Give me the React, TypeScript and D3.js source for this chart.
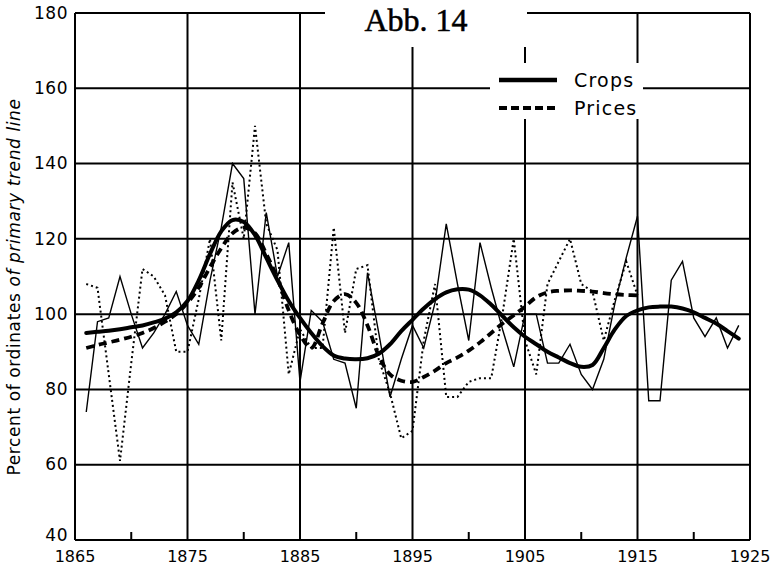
import React from "react";
import * as d3 from "d3";

const W = 778;
const H = 568;

const firstYear = 1866;

// Crops, annual (percent of trend) 1866–1924
const cropsAnnual = [
  74, 98, 99, 110, 100, 91, 95, 100, 106, 97,
  92, 109, 123, 140, 136, 100, 127, 110, 119, 82,
  101, 98, 88, 87, 75, 111, 95, 78, 88, 97,
  91, 103, 124, 108, 93, 119, 107, 96, 86, 100,
  100, 87, 87, 92, 84, 80, 88, 103, 115, 126,
  77, 77, 109, 114, 99, 94, 99, 91, 97,
];

// Crops, smoothed cycle 1866–1924
const cropsTrend = [
  95, 95.3, 95.6, 96, 96.5, 97, 97.8, 98.8, 100.5, 103.5,
  109, 116, 122, 125, 124.5, 121, 115, 109, 103.5, 99,
  95, 91.5, 89, 88.2, 88, 88.3, 89.5, 92, 95.5, 98.5,
  101.5, 104, 105.8, 106.6, 106.5, 105, 102.5, 99.5, 96.5, 94,
  92, 90, 88.5, 87, 86, 86.5, 91, 96, 99.5, 101,
  101.8, 102, 102, 101.5, 100.5, 99, 97.5, 95.5, 93.5,
];

// Prices, annual 1866–1915
const pricesAnnual = [
  108, 107, 84, 61, 87, 112, 110, 105, 90, 90,
  104, 120, 93, 135, 120, 150, 124, 117, 84, 96,
  91, 91, 123, 95, 112, 113, 88, 79, 67, 69,
  93, 108, 78, 78, 82, 83, 83, 100, 120, 93,
  84, 108, 114, 120, 108, 106, 93, 104, 114, 105,
];

// Prices, smoothed cycle 1866–1915
const pricesTrend = [
  91, 91.8, 92.5, 93.2, 94, 95, 96.3, 98, 100, 103,
  107, 112.5, 117.5, 121.5, 123, 121.5, 116, 109.5, 101, 94.5,
  91, 97.5, 103.5, 105.3, 103, 97, 89, 84, 82.3, 82,
  83.3, 85, 87, 88.5, 90.3, 92.5, 95, 97.5, 99.7, 102,
  104.5, 105.8, 106.2, 106.3, 106.2, 106, 105.6, 105.3, 105.1, 105,
];

const yTicks = [40, 60, 80, 100, 120, 140, 160, 180];
const xLabelYears = [1865, 1875, 1885, 1895, 1905, 1915, 1925];
const xMinorTicks = [1870, 1880, 1890, 1900, 1910, 1920];
const gridYears = [1875, 1885, 1895, 1905, 1915];
const gridValues = [60, 80, 100, 120, 140, 160];

const title = "Abb. 14";
const legendLabels = ["Crops", "Prices"];
const yTitleA = "Percent of ordinates ";
const yTitleB = "of primary trend line";

const toPoints = (vals: number[]) => vals.map((v, i) => ({ year: firstYear + i, v }));

export default function App() {
  const x = d3.scaleLinear().domain([1865, 1925]).range([75, 750]);
  const y = d3.scaleLinear().domain([40, 180]).range([540, 13]);

  const lineLin = d3
    .line<{ year: number; v: number }>()
    .x((d) => x(d.year))
    .y((d) => y(d.v))
    .curve(d3.curveLinear);
  const lineSmooth = d3
    .line<{ year: number; v: number }>()
    .x((d) => x(d.year))
    .y((d) => y(d.v))
    .curve(d3.curveCatmullRom.alpha(0.5));

  const x0 = x(1865);
  const x1 = x(1925);
  const yTop = y(180);
  const yBot = y(40);

  const labelFont = "'DejaVu Sans', 'Liberation Sans', sans-serif";

  // white-out areas (title + legend) as in the original print
  const titleBox = { x: 325, y: 0, w: 202, h: 47 };
  const legendBox = { x: 490, y: 63, w: 153, h: 56 };

  return (
    <svg
      width={W}
      height={H}
      viewBox={`0 0 ${W} ${H}`}
      style={{ position: "absolute", left: 0, top: 0, background: "#fff" }}
    >
      <rect x={0} y={0} width={W} height={H} fill="#fff" />
      {/* grid */}
      <g stroke="#000" strokeWidth={2}>
        {gridValues.map((v) => (
          <line key={"h" + v} x1={x0} x2={x1} y1={y(v)} y2={y(v)} />
        ))}
        {gridYears.map((yr) => (
          <line key={"v" + yr} x1={x(yr)} x2={x(yr)} y1={yTop} y2={yBot} />
        ))}
        <line x1={x0} x2={x1} y1={yTop} y2={yTop} />
        <line x1={x0} x2={x1} y1={yBot} y2={yBot} />
        <line x1={x0} x2={x0} y1={yTop} y2={yBot} />
        <line x1={x1} x2={x1} y1={yTop} y2={yBot} />
        {xMinorTicks.map((yr) => (
          <line key={"t" + yr} x1={x(yr)} x2={x(yr)} y1={yBot} y2={yBot - 8} />
        ))}
      </g>
      <rect x={titleBox.x} y={titleBox.y} width={titleBox.w} height={titleBox.h} fill="#fff" />
      <rect x={legendBox.x} y={legendBox.y} width={legendBox.w} height={legendBox.h} fill="#fff" />

      {/* series */}
      <path
        d={lineLin(toPoints(pricesAnnual)) || ""}
        fill="none"
        stroke="#000"
        strokeWidth={2}
        strokeDasharray="2 3"
      />
      <path
        d={lineLin(toPoints(cropsAnnual)) || ""}
        fill="none"
        stroke="#000"
        strokeWidth={1.4}
        strokeLinejoin="miter"
      />
      <path
        d={lineSmooth(toPoints(pricesTrend)) || ""}
        fill="none"
        stroke="#000"
        strokeWidth={3.8}
        strokeDasharray="8 5"
      />
      <path
        d={lineSmooth(toPoints(cropsTrend)) || ""}
        fill="none"
        stroke="#000"
        strokeWidth={4}
        strokeLinecap="round"
      />

      {/* title */}
      <text
        x={416}
        y={31}
        textAnchor="middle"
        fontFamily="'Liberation Serif', 'DejaVu Serif', serif"
        fontSize={32}
        fill="#000"
        stroke="#000"
        strokeWidth={0.5}
      >
        {title}
      </text>

      {/* legend */}
      <line x1={499} x2={557} y1={80} y2={80} stroke="#000" strokeWidth={4.5} />
      <line x1={499} x2={557} y1={108} y2={108} stroke="#000" strokeWidth={3.8} strokeDasharray="8 4" />
      <text x={574} y={87} fontFamily={labelFont} fontSize={19} letterSpacing={1.2} fill="#000">
        {legendLabels[0]}
      </text>
      <text x={574} y={115} fontFamily={labelFont} fontSize={19} letterSpacing={1.2} fill="#000">
        {legendLabels[1]}
      </text>

      {/* y tick labels */}
      {yTicks.map((v) => (
        <text
          key={"yl" + v}
          x={68}
          y={v === y.domain()[0] ? y(v) - 5 : y(v)}
          dy="0.34em"
          textAnchor="end"
          fontFamily={labelFont}
          fontSize={17}
          letterSpacing={0.5}
          fill="#000"
        >
          {v}
        </text>
      ))}

      {/* x labels */}
      {xLabelYears.map((yr) => (
        <text
          key={"xl" + yr}
          x={x(yr)}
          y={562}
          textAnchor="middle"
          fontFamily={labelFont}
          fontSize={16}
          fill="#000"
        >
          {yr}
        </text>
      ))}

      {/* y title */}
      <text
        transform={`translate(20, ${287}) rotate(-90)`}
        textAnchor="middle"
        fontFamily={labelFont}
        fontSize={17}
        letterSpacing={0.6}
        fill="#000"
      >
        {yTitleA}
        <tspan fontStyle="italic">{yTitleB}</tspan>
      </text>
    </svg>
  );
}
